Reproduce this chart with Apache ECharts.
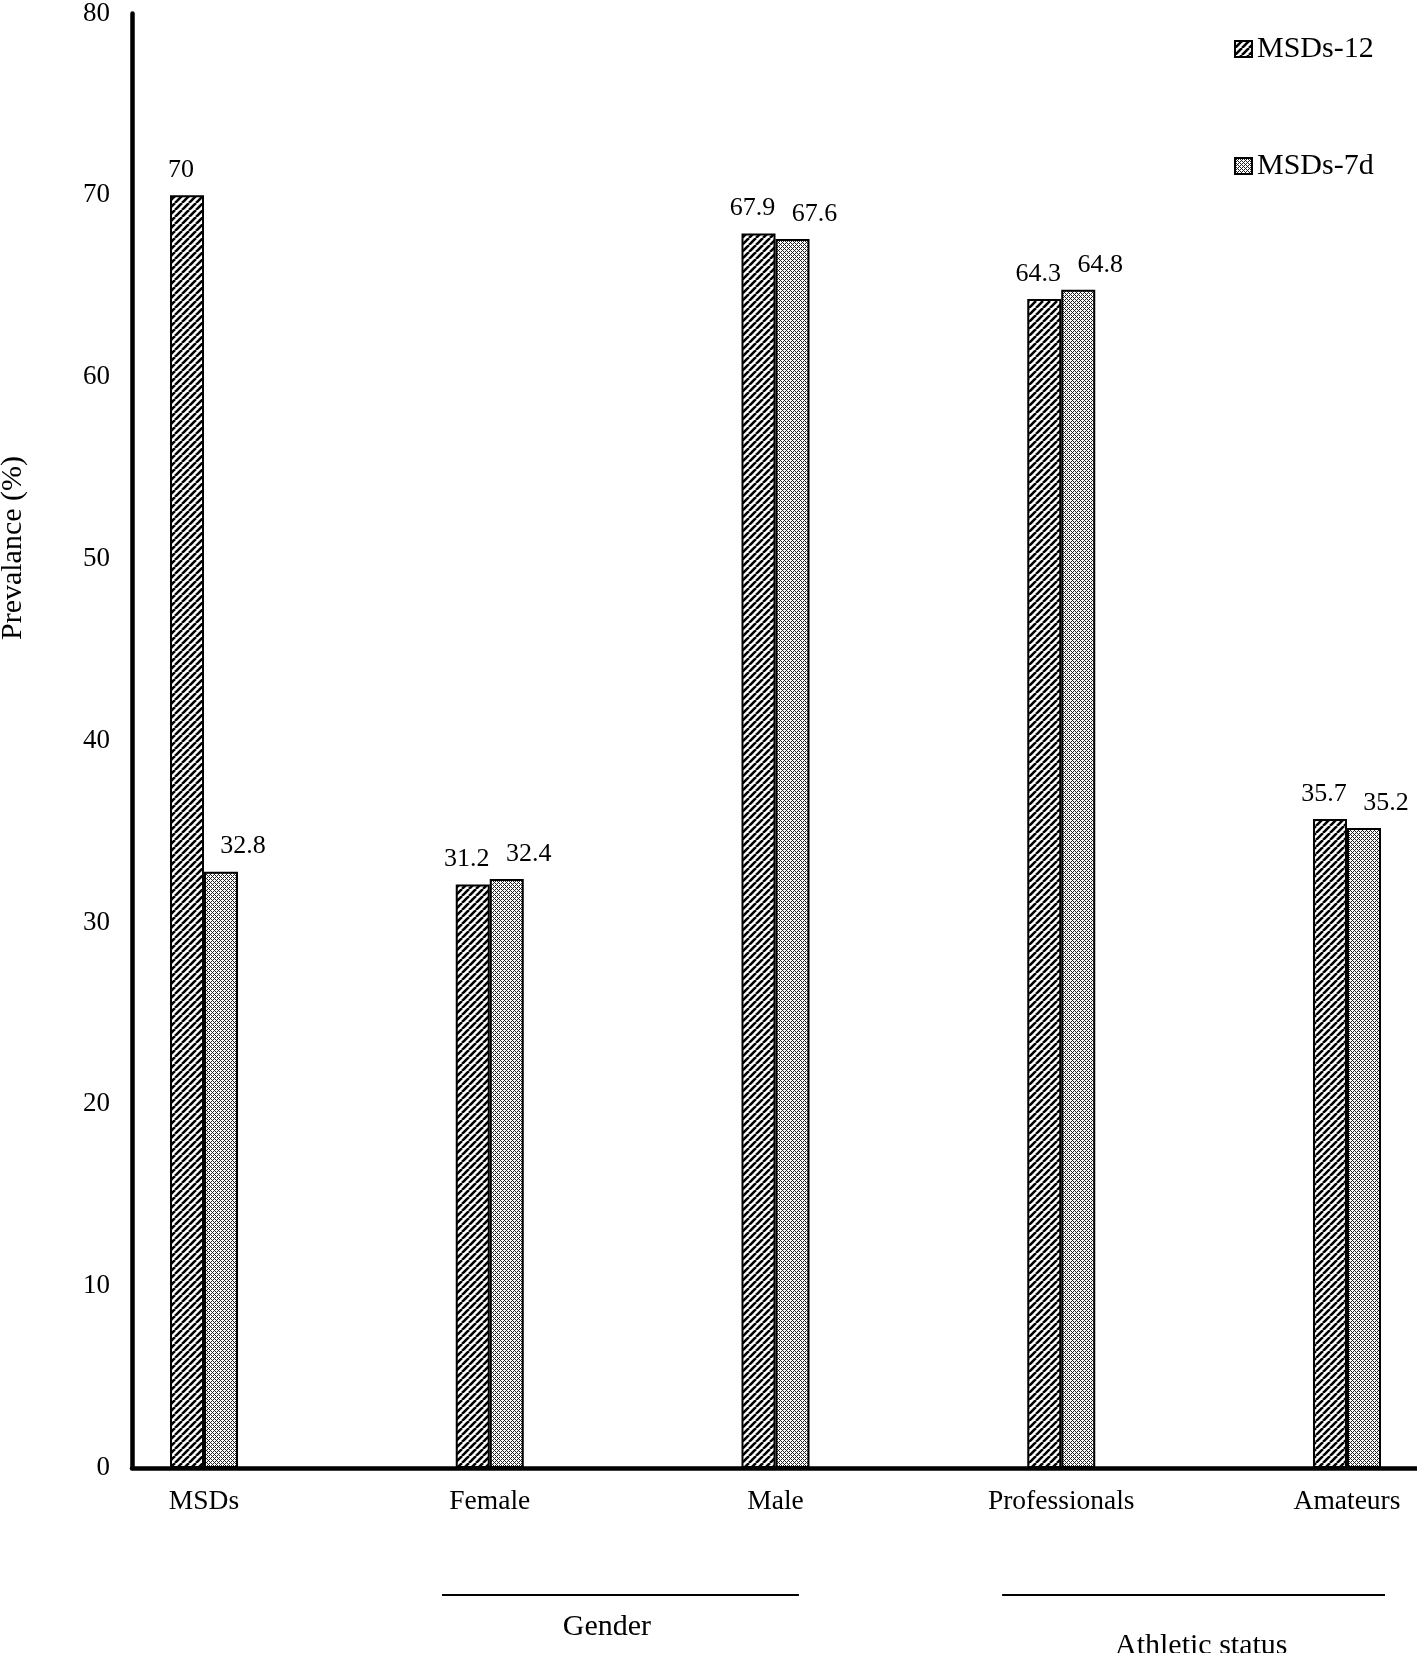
<!DOCTYPE html>
<html>
<head>
<meta charset="utf-8">
<script src="https://cdn.jsdelivr.net/npm/echarts@6/dist/echarts.min.js"></script>
<style>
  html, body { margin: 0; padding: 0; background: #fff; }
  #chart { width: 1417px; height: 1653px; }
</style>
</head>
<body>
<div id="chart"></div>
<script>
var categories = ['MSDs', 'Female', 'Male', 'Professionals', 'Amateurs'];
var seriesNames = ['MSDs-12', 'MSDs-7d'];
var msds12 = [70, 32.1, 67.9, 64.3, 35.7];
var msds7d = [32.8, 32.4, 67.6, 64.8, 35.2];
// the printed labels (the figure prints 31.2 over the Female bar)
var msds12Labels = ['70', '31.2', '67.9', '64.3', '35.7'];
var msds7dLabels = ['32.8', '32.4', '67.6', '64.8', '35.2'];
var yMin = 0, yMax = 80, yStep = 10;

// grouping brackets under the axis, in category units
var groupNames = ['Gender', 'Athletic status'];
var groupLineFrom = [0.833, 2.793];
var groupLineTo = [2.082, 4.133];
var groupLabelAt = [1.41, 3.49];

var FONT = '"Times New Roman", "Liberation Serif", serif';

function hatchTile() {
    var s = 7;
    var c = document.createElement('canvas');
    c.width = s; c.height = s;
    var g = c.getContext('2d');
    g.fillStyle = '#fff';
    g.fillRect(0, 0, s, s);
    g.strokeStyle = '#000';
    g.lineWidth = 2.6;
    [-s, 0, s].forEach(function (x0) {
        g.beginPath();
        g.moveTo(x0, s);
        g.lineTo(x0 + s, 0);
        g.stroke();
    });
    return c;
}

function dotTile() {
    var s = 4;
    var c = document.createElement('canvas');
    c.width = s; c.height = s;
    var g = c.getContext('2d');
    g.fillStyle = '#fff';
    g.fillRect(0, 0, s, s);
    g.fillStyle = '#222';
    for (var x = 0; x < s; x++) {
        for (var y = 0; y < s; y++) {
            if ((x + y) % 4 === 0 || ((x - y) + 4) % 4 === 0) g.fillRect(x, y, 1, 1);
        }
    }
    return c;
}

var chart = echarts.init(document.getElementById('chart'));

function pairs(arr) {
    return arr.map(function (v, i) { return [i, v]; });
}

var option = {
    animation: false,
    backgroundColor: '#fff',
    textStyle: { fontFamily: FONT, color: '#000' },
    grid: { left: 132, right: 0, top: 8, bottom: 185, containLabel: false },
    legend: {
        orient: 'vertical',
        left: 1234,
        top: 34,
        padding: 0,
        itemWidth: 17,
        itemHeight: 16,
        itemGap: 87,
        icon: 'rect',
        data: seriesNames,
        textStyle: { fontFamily: FONT, fontSize: 30, color: '#000', lineHeight: 30 }
    },
    xAxis: {
        type: 'value',
        min: -0.252,
        max: 4.245,
        splitLine: { show: false },
        axisTick: { show: false },
        axisLine: { onZero: false, lineStyle: { color: '#000', width: 4.5 } },
        axisLabel: {
            customValues: categories.map(function (c, i) { return i; }),
            formatter: function (v) { return categories[Math.round(v)]; },
            margin: 20,
            fontFamily: FONT,
            fontSize: 27.5,
            color: '#000'
        }
    },
    yAxis: {
        type: 'value',
        min: yMin,
        max: yMax,
        interval: yStep,
        splitLine: { show: false },
        axisTick: { show: false },
        axisLine: { show: true, onZero: false, lineStyle: { color: '#000', width: 4.5 } },
        axisLabel: { margin: 22, fontFamily: FONT, fontSize: 27, color: '#000' }
    },
    series: [
        {
            name: seriesNames[0],
            type: 'bar',
            barWidth: 34,
            barGap: '0%',
            data: pairs(msds12),
            itemStyle: {
                color: { image: hatchTile(), repeat: 'repeat' },
                borderColor: '#000',
                borderWidth: 2
            },
            label: {
                show: true,
                position: 'top',
                distance: 12,
                offset: [-6, 0],
                fontFamily: FONT,
                fontSize: 26,
                color: '#000',
                formatter: function (p) { return msds12Labels[p.dataIndex]; }
            }
        },
        {
            name: seriesNames[1],
            type: 'bar',
            barWidth: 34,
            barGap: '0%',
            data: pairs(msds7d),
            itemStyle: {
                color: { image: dotTile(), repeat: 'repeat' },
                borderColor: '#000',
                borderWidth: 2
            },
            label: {
                show: true,
                position: 'top',
                distance: 12,
                offset: [22, 0],
                fontFamily: FONT,
                fontSize: 26,
                color: '#000',
                formatter: function (p) { return msds7dLabels[p.dataIndex]; }
            }
        }
    ]
};

chart.setOption(option);

function px(v) {
    return chart.convertToPixel({ xAxisIndex: 0 }, v);
}

var graphics = [{
    type: 'text',
    x: 13,
    y: 548,
    rotation: Math.PI / 2,
    style: {
        text: 'Prevalance (%)',
        fontFamily: FONT,
        fontSize: 30,
        fill: '#000',
        align: 'center',
        verticalAlign: 'middle'
    }
}];
var lineYs = [1595, 1595];
var labelYs = [1627, 1646];
groupNames.forEach(function (name, i) {
    graphics.push({
        type: 'line',
        shape: { x1: px(groupLineFrom[i]), y1: lineYs[i], x2: px(groupLineTo[i]), y2: lineYs[i] },
        style: { stroke: '#000', lineWidth: 2 }
    });
    graphics.push({
        type: 'text',
        x: px(groupLabelAt[i]),
        y: labelYs[i],
        style: {
            text: name,
            fontFamily: FONT,
            fontSize: 30,
            fill: '#000',
            align: 'center',
            verticalAlign: 'middle'
        }
    });
});

chart.setOption({ graphic: graphics });
</script>
</body>
</html>
